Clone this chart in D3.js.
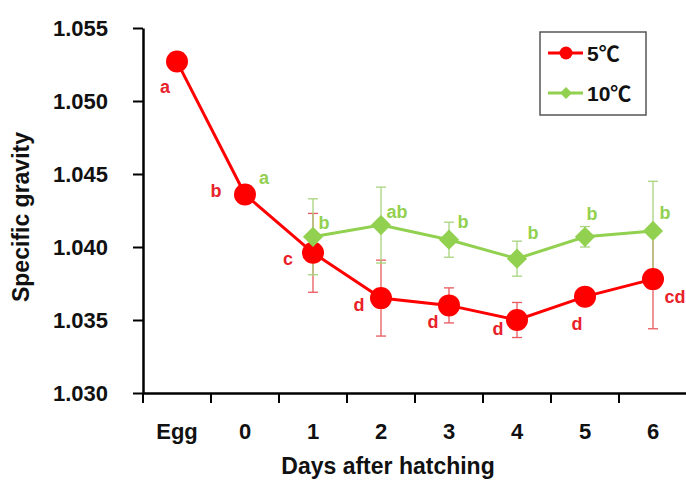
<!DOCTYPE html>
<html>
<head>
<meta charset="utf-8">
<script src="https://cdn.jsdelivr.net/npm/d3@7"></script>
<style>
  body { margin: 0; background: #fff; }
  svg { display: block; }
  text { font-family: "Liberation Sans", Arial, "Noto Sans CJK SC", sans-serif; font-weight: bold; }
</style>
</head>
<body>
<div id="chart"></div>
<script>
// categories on the x axis
const days = ["Egg", "0", "1", "2", "3", "4", "5", "6"]
const yTicks = [1.030, 1.035, 1.040, 1.045, 1.050, 1.055]

// 5 degree group
const cold = [1.0527, 1.0436, 1.0396, 1.0365, 1.0360, 1.0350, 1.0366, 1.0378]
const coldErr = [0, 0, 0.0027, 0.0026, 0.0012, 0.0012, 0, 0.0034]
const coldLetters = ["a", "b", "c", "d", "d", "d", "d", "cd"]

// 10 degree group (no egg / day 0 point drawn)
const warm = [null, null, 1.0407, 1.0415, 1.0405, 1.0392, 1.0407, 1.0411]
const warmErr = [0, 0, 0.0026, 0.0026, 0.0012, 0.0012, 0.0007, 0.0034]
const warmLetters = [null, "a", "b", "ab", "b", "b", "b", "b"]

const seriesNames = ["5\u2103", "10\u2103"]

const width = 686
const height = 480
const red = "#ff0000"
const green = "#92d050"

const x = d3.scaleBand().domain(days).range([143, 687])
const y = d3.scaleLinear().domain([1.030, 1.055]).range([393, 28])
const cx = d => x(d) + x.bandwidth() / 2

const svg = d3.select("#chart").append("svg")
    .attr("width", width)
    .attr("height", height)

// axes
const yAxis = svg.append("g")
    .attr("transform", "translate(143,0)")
    .call(d3.axisLeft(y).tickValues(yTicks).tickFormat(d3.format(".3f"))
      .tickSize(10).tickSizeOuter(0).tickPadding(25))
yAxis.select(".domain").attr("stroke-width", 2.5)
yAxis.selectAll(".tick line").attr("stroke-width", 2)
yAxis.selectAll("text").attr("font-size", 22).attr("fill", "#111")

const xAxis = svg.append("g")
    .attr("transform", "translate(0,393)")
    .call(d3.axisBottom(x).tickSize(0).tickPadding(30))
xAxis.select(".domain").attr("stroke-width", 2.5)
xAxis.selectAll("text").attr("font-size", 22).attr("fill", "#111")

// x ticks sit between the categories
svg.append("g").selectAll("line")
  .data(days.concat([null]))
  .join("line")
    .attr("x1", d => d === null ? 687 : x(d))
    .attr("x2", d => d === null ? 687 : x(d))
    .attr("y1", 393)
    .attr("y2", 403)
    .attr("stroke", "#000")
    .attr("stroke-width", 2)

svg.append("text")
    .attr("x", 388)
    .attr("y", 474)
    .attr("text-anchor", "middle")
    .attr("font-size", 23)
    .attr("fill", "#111")
    .text("Days after hatching")

svg.append("text")
    .attr("transform", "translate(29,217) rotate(-90)")
    .attr("text-anchor", "middle")
    .attr("font-size", 23)
    .attr("fill", "#111")
    .text("Specific gravity")

function points(vals, errs) {
  return days.map((d, i) => ({ day: d, v: vals[i], e: errs[i] })).filter(p => p.v !== null)
}
const coldPts = points(cold, coldErr)
const warmPts = points(warm, warmErr)

// error bars
function errorBars(pts, color) {
  const g = svg.append("g").attr("stroke", color).attr("stroke-width", 1.3)
  pts.filter(p => p.e > 0).forEach(p => {
    const px = cx(p.day)
    g.append("line").attr("x1", px).attr("x2", px).attr("y1", y(p.v - p.e)).attr("y2", y(p.v + p.e))
    g.append("line").attr("x1", px - 5).attr("x2", px + 5).attr("y1", y(p.v - p.e)).attr("y2", y(p.v - p.e))
    g.append("line").attr("x1", px - 5).attr("x2", px + 5).attr("y1", y(p.v + p.e)).attr("y2", y(p.v + p.e))
  })
}
errorBars(coldPts, "#e8595e")
errorBars(warmPts, "#a8d47e")

const line = d3.line().x(p => cx(p.day)).y(p => y(p.v))

svg.append("path").datum(coldPts)
    .attr("d", line).attr("fill", "none").attr("stroke", red).attr("stroke-width", 3)
svg.append("path").datum(warmPts)
    .attr("d", line).attr("fill", "none").attr("stroke", green).attr("stroke-width", 3)

svg.append("g").selectAll("circle")
  .data(coldPts)
  .join("circle")
    .attr("cx", p => cx(p.day))
    .attr("cy", p => y(p.v))
    .attr("r", 11)
    .attr("fill", red)

const diamond = d3.symbol().type(d3.symbolDiamond2).size(260)
svg.append("g").selectAll("path")
  .data(warmPts)
  .join("path")
    .attr("transform", p => `translate(${cx(p.day)},${y(p.v)})`)
    .attr("d", diamond)
    .attr("fill", green)

// significance letters, offsets from each point
const coldOff = [[-12, 31], [-29, 3], [-25, 12], [-22, 13], [-16, 23], [-19, 15], [-8, 33], [22, 24]]
const warmOff = [null, [19, 6], [11, -8], [16, -7], [14, -12], [16, -20], [7, -17], [12, -12]]

svg.append("g").selectAll("text")
  .data(days.map((d, i) => ({ d, i })))
  .join("text")
    .attr("x", o => cx(o.d) + coldOff[o.i][0])
    .attr("y", o => y(cold[o.i]) + coldOff[o.i][1])
    .attr("text-anchor", "middle")
    .attr("font-size", 18)
    .attr("fill", "#e8212a")
    .text(o => coldLetters[o.i])

svg.append("g").selectAll("text")
  .data(days.map((d, i) => ({ d, i })).filter(o => warmLetters[o.i]))
  .join("text")
    .attr("x", o => cx(o.d) + warmOff[o.i][0])
    .attr("y", o => (warm[o.i] === null ? y(cold[o.i]) - 16 : y(warm[o.i])) + warmOff[o.i][1])
    .attr("text-anchor", "middle")
    .attr("font-size", 18)
    .attr("fill", green)
    .text(o => warmLetters[o.i])

// legend
const legend = svg.append("g")
legend.append("rect")
    .attr("x", 540).attr("y", 32).attr("width", 106).attr("height", 83)
    .attr("fill", "#fff").attr("stroke", "#555").attr("stroke-width", 1.5)

const rows = legend.selectAll("g")
  .data(seriesNames)
  .join("g")
    .attr("transform", (d, i) => `translate(0,${53 + i * 40})`)
rows.append("line")
    .attr("x1", 548).attr("x2", 583)
    .attr("stroke", (d, i) => i === 0 ? red : green)
    .attr("stroke-width", 3)
rows.filter((d, i) => i === 0).append("circle")
    .attr("cx", 566).attr("r", 6.5).attr("fill", red)
rows.filter((d, i) => i === 1).append("path")
    .attr("transform", "translate(566,0)")
    .attr("d", d3.symbol().type(d3.symbolDiamond2).size(90))
    .attr("fill", green)
rows.append("text")
    .attr("x", 587)
    .attr("dy", "0.36em")
    .attr("font-size", 21)
    .attr("fill", "#111")
    .text(d => d)
</script>
</body>
</html>
